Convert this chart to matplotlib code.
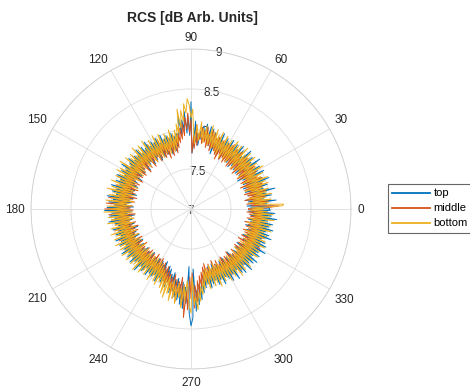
"""RCS polar plot: top / middle / bottom traces, 1 deg sampling."""
import matplotlib
matplotlib.use("Agg")
import matplotlib.pyplot as plt
import numpy as np

plt.rcParams["font.family"] = ["Liberation Sans", "DejaVu Sans"]

# azimuth in degrees, 0..359
angles_deg = np.arange(0, 360, 1)

top = [
    7.98, 7.74, 8.04, 7.70, 7.95, 7.78, 8.07, 7.72, 7.92, 7.69, 8.02, 7.80, 7.96, 7.73, 8.08, 7.76, 7.94, 7.71, 8.00, 7.79,
    7.93, 7.70, 8.05, 7.75, 7.97, 7.72, 7.90, 7.81, 8.03, 7.74, 7.96, 7.68, 8.01, 7.77, 7.92, 7.73, 8.06, 7.79, 7.95, 7.71,
    8.00, 7.76, 7.93, 7.72, 8.04, 7.80, 7.91, 7.74, 7.98, 7.70, 8.02, 7.78, 7.94, 7.73, 7.99, 7.81, 7.92, 7.75, 8.01, 7.77,
    7.95, 7.72, 7.99, 7.79, 7.93, 7.74, 8.03, 7.76, 7.96, 7.80, 7.92, 7.73, 8.00, 7.78, 8.04, 7.82, 8.06, 7.85, 8.02, 8.08,
    7.90, 8.05, 7.88, 7.98, 7.80, 7.95, 7.84, 8.10, 7.78, 7.70, 8.34, 7.92, 8.18, 7.95, 8.22, 8.00, 8.12, 7.94, 8.16, 7.98,
    7.88, 7.96, 7.80, 7.93, 7.75, 7.98, 7.79, 7.92, 7.72, 7.97, 7.81, 7.94, 7.74, 8.00, 7.77, 7.91, 7.73, 7.99, 7.80, 7.95,
    7.71, 7.98, 7.78, 7.93, 7.74, 8.02, 7.80, 7.95, 7.72, 7.99, 7.77, 7.92, 7.75, 8.01, 7.79, 7.94, 7.70, 7.97, 7.82, 7.93,
    7.76, 8.00, 7.73, 7.96, 7.81, 7.92, 7.74, 8.03, 7.78, 7.95, 7.71, 7.99, 7.80, 7.93, 7.75, 8.02, 7.77, 7.96, 7.72, 8.00,
    7.79, 7.94, 7.74, 8.04, 7.76, 7.97, 7.70, 8.01, 7.80, 7.95, 7.73, 8.06, 7.78, 7.98, 7.75, 8.03, 7.81, 7.96, 7.72, 8.05,
    7.77, 8.08, 7.74, 7.99, 7.80, 8.02, 7.71, 7.96, 7.79, 8.04, 7.75, 7.97, 7.82, 7.93, 7.73, 8.01, 7.78, 7.95, 7.70, 7.99,
    7.81, 7.94, 7.74, 8.02, 7.77, 7.96, 7.72, 8.00, 7.80, 7.93, 7.75, 7.98, 7.71, 8.03, 7.79, 7.95, 7.73, 7.99, 7.82, 7.94,
    7.76, 8.01, 7.72, 7.96, 7.80, 7.93, 7.74, 8.04, 7.78, 7.95, 7.71, 7.99, 7.81, 7.92, 7.75, 8.00, 7.77, 7.96, 7.73, 7.98,
    7.80, 7.94, 7.74, 8.01, 7.78, 7.95, 7.72, 7.99, 7.82, 7.96, 7.76, 8.03, 7.79, 7.97, 7.85, 8.08, 7.82, 8.05, 7.90, 8.12,
    7.88, 8.15, 7.95, 8.20, 7.92, 8.25, 7.98, 8.18, 7.72, 8.30, 8.46, 8.36, 7.75, 8.28, 8.02, 8.20, 7.95, 8.14, 7.90, 8.06,
    7.84, 8.00, 7.78, 7.96, 7.82, 8.02, 7.75, 7.98, 7.80, 7.94, 7.73, 8.01, 7.79, 7.96, 7.76, 8.03, 7.81, 7.95, 7.74, 7.99,
    7.78, 8.04, 7.72, 7.97, 7.81, 8.06, 7.75, 7.95, 7.79, 8.02, 7.70, 8.05, 7.77, 7.96, 7.82, 8.07, 7.74, 7.99, 7.80, 8.03,
    7.73, 8.06, 7.79, 7.97, 7.71, 8.04, 7.78, 8.00, 7.83, 8.08, 7.75, 7.98, 7.80, 8.05, 7.72, 8.02, 7.77, 7.96, 7.81, 8.07,
    7.74, 8.03, 7.79, 7.98, 7.71, 8.06, 7.80, 8.00, 7.76, 8.04, 7.73, 7.97, 7.82, 8.08, 7.75, 8.01, 7.78, 8.05, 7.72, 7.99,
]
middle = [
    7.72, 7.95, 8.10, 7.76, 7.92, 7.70, 7.97, 7.78, 7.90, 7.68, 7.94, 7.75, 7.91, 7.73, 7.96, 7.69, 7.89, 7.77, 7.93, 7.71,
    7.95, 7.74, 7.90, 7.67, 7.97, 7.76, 7.92, 7.70, 7.88, 7.78, 7.94, 7.72, 7.91, 7.69, 7.96, 7.75, 7.89, 7.71, 7.93, 7.77,
    7.90, 7.68, 7.95, 7.74, 7.92, 7.70, 7.88, 7.77, 7.96, 7.72, 7.91, 7.69, 7.94, 7.76, 7.89, 7.73, 7.97, 7.70, 7.92, 7.75,
    7.93, 7.71, 7.90, 7.77, 7.95, 7.69, 7.92, 7.74, 7.97, 7.78, 7.94, 7.80, 7.99, 7.76, 8.02, 7.82, 7.96, 7.79, 8.04, 7.85,
    7.98, 7.83, 8.03, 7.88, 7.95, 7.80, 8.06, 7.76, 7.92, 7.70, 8.12, 7.95, 8.20, 8.00, 8.15, 7.92, 8.08, 7.88, 8.02, 7.84,
    7.96, 7.78, 7.92, 7.72, 7.95, 7.75, 7.90, 7.70, 7.94, 7.77, 7.89, 7.68, 7.93, 7.74, 7.91, 7.71, 7.96, 7.76, 7.88, 7.73,
    7.94, 7.70, 7.91, 7.77, 7.97, 7.72, 7.89, 7.75, 7.93, 7.69, 7.96, 7.78, 7.90, 7.71, 7.95, 7.74, 7.92, 7.68, 7.98, 7.76,
    7.91, 7.73, 7.96, 7.70, 7.93, 7.77, 7.99, 7.72, 7.90, 7.75, 7.97, 7.69, 7.94, 7.78, 7.92, 7.71, 8.00, 7.74, 7.95, 7.76,
    7.93, 7.70, 7.98, 7.75, 7.91, 7.72, 8.02, 7.77, 7.94, 7.69, 7.99, 7.74, 8.04, 7.71, 7.96, 7.78, 8.06, 7.73, 7.97, 7.76,
    8.08, 7.72, 7.98, 7.77, 8.03, 7.70, 7.95, 7.75, 8.00, 7.73, 7.94, 7.78, 7.97, 7.71, 7.92, 7.76, 7.99, 7.69, 7.93, 7.74,
    7.96, 7.71, 7.92, 7.76, 7.98, 7.73, 7.90, 7.78, 7.95, 7.70, 7.93, 7.75, 7.97, 7.72, 7.91, 7.77, 7.94, 7.69, 7.96, 7.74,
    7.92, 7.77, 7.95, 7.71, 7.90, 7.74, 7.97, 7.70, 7.93, 7.76, 7.89, 7.72, 7.96, 7.75, 7.91, 7.69, 7.94, 7.78, 7.92, 7.73,
    7.95, 7.71, 7.91, 7.76, 7.97, 7.74, 7.93, 7.79, 7.99, 7.77, 8.02, 7.82, 7.96, 7.85, 8.05, 7.88, 8.10, 7.84, 8.14, 7.90,
    8.18, 7.92, 8.08, 7.86, 8.22, 7.95, 8.36, 8.02, 8.26, 7.85, 8.12, 7.80, 8.24, 7.96, 8.16, 7.90, 8.06, 7.84, 7.98, 7.80,
    7.95, 7.74, 7.92, 7.70, 7.97, 7.76, 7.90, 7.72, 7.94, 7.78, 7.91, 7.69, 7.96, 7.75, 7.93, 7.71, 7.89, 7.77, 7.95, 7.73,
    7.92, 7.70, 7.97, 7.75, 7.90, 7.72, 7.95, 7.78, 7.93, 7.69, 7.98, 7.74, 7.91, 7.76, 7.96, 7.71, 7.94, 7.77, 7.92, 7.73,
    7.97, 7.70, 7.93, 7.76, 7.90, 7.72, 7.96, 7.78, 7.94, 7.69, 7.99, 7.75, 7.92, 7.71, 7.95, 7.77, 7.91, 7.73, 7.98, 7.70,
    7.94, 7.76, 7.90, 7.72, 7.97, 7.74, 7.93, 7.69, 7.96, 7.78, 7.91, 7.71, 7.95, 7.75, 7.92, 7.73, 7.98, 7.70, 7.94, 7.77,
]
bottom = [
    7.90, 7.76, 8.14, 8.16, 7.80, 7.98, 7.73, 8.01, 7.78, 7.95, 7.72, 8.03, 7.81, 7.97, 7.75, 8.00, 7.79, 7.94, 7.71, 8.02,
    7.77, 7.99, 7.74, 8.04, 7.80, 7.96, 7.72, 8.01, 7.78, 7.93, 7.75, 8.05, 7.79, 7.97, 7.71, 8.00, 7.82, 7.95, 7.74, 8.03,
    7.76, 7.98, 7.73, 8.02, 7.81, 7.96, 7.70, 8.04, 7.77, 7.94, 7.75, 8.01, 7.80, 7.99, 7.72, 8.03, 7.78, 7.95, 7.74, 8.00,
    7.79, 7.97, 7.73, 8.02, 7.81, 7.95, 7.76, 8.04, 7.78, 7.99, 7.82, 8.05, 7.80, 8.01, 7.85, 8.08, 7.83, 7.98, 7.88, 8.06,
    7.84, 8.02, 7.90, 8.10, 7.86, 7.98, 8.05, 7.82, 7.95, 8.25, 8.14, 8.30, 8.38, 8.20, 8.32, 8.10, 8.24, 8.02, 8.26, 7.96,
    8.08, 7.84, 8.01, 7.79, 7.97, 7.75, 8.03, 7.80, 7.96, 7.73, 8.00, 7.78, 7.94, 7.76, 8.02, 7.81, 7.98, 7.72, 8.04, 7.77,
    7.95, 7.74, 8.01, 7.79, 7.97, 7.72, 8.05, 7.80, 7.93, 7.76, 8.03, 7.78, 7.99, 7.73, 8.06, 7.81, 7.96, 7.75, 8.02, 7.79,
    7.98, 7.74, 8.04, 7.77, 7.95, 7.72, 8.07, 7.80, 7.97, 7.76, 8.02, 7.73, 8.05, 7.79, 7.99, 7.75, 8.03, 7.78, 7.96, 7.71,
    8.06, 7.80, 7.98, 7.74, 8.03, 7.77, 8.08, 7.73, 7.99, 7.79, 8.04, 7.75, 8.01, 7.72, 8.07, 7.78, 7.97, 7.74, 8.05, 7.80,
    8.02, 7.76, 8.09, 7.73, 7.99, 7.79, 8.04, 7.75, 8.01, 7.72, 8.06, 7.78, 7.97, 7.74, 8.03, 7.80, 7.98, 7.73, 8.05, 7.77,
    7.99, 7.74, 8.03, 7.79, 7.96, 7.72, 8.05, 7.78, 8.00, 7.75, 8.02, 7.73, 7.97, 7.80, 8.04, 7.76, 7.98, 7.72, 8.03, 7.79,
    7.96, 7.75, 8.02, 7.73, 7.99, 7.78, 8.05, 7.76, 7.97, 7.72, 8.03, 7.80, 7.98, 7.74, 8.01, 7.77, 7.95, 7.73, 8.04, 7.79,
    7.97, 7.75, 8.02, 7.78, 8.05, 7.80, 7.99, 7.83, 8.06, 7.86, 8.12, 7.90, 8.16, 7.88, 8.10, 7.95, 8.18, 7.92, 8.14, 7.98,
    8.20, 7.94, 8.12, 8.00, 8.24, 7.96, 8.15, 7.90, 8.05, 8.22, 8.30, 7.85, 8.20, 8.10, 8.26, 8.04, 8.16, 7.98, 8.08, 7.92,
    8.02, 7.80, 7.97, 7.76, 8.03, 7.79, 7.95, 7.74, 8.01, 7.78, 7.98, 7.73, 8.04, 7.77, 7.96, 7.75, 8.00, 7.79, 7.97, 7.72,
    8.03, 7.78, 7.96, 7.74, 8.01, 7.80, 7.98, 7.73, 8.05, 7.77, 7.99, 7.75, 8.02, 7.79, 7.95, 7.74, 8.04, 7.78, 7.97, 7.72,
    8.00, 7.77, 7.96, 7.75, 8.03, 7.79, 7.98, 7.73, 8.01, 7.78, 7.95, 7.76, 8.04, 7.80, 7.97, 7.74, 8.02, 7.77, 7.99, 7.73,
    8.01, 7.79, 7.96, 7.75, 8.04, 7.78, 7.98, 7.72, 8.02, 7.77, 7.97, 7.74, 8.05, 7.80, 7.99, 7.76, 8.03, 7.79, 7.96, 7.74,
]
series_names = ["top", "middle", "bottom"]
colors = ["#0072BD", "#D95319", "#EDB120"]

r_ticks = [7, 7.5, 8, 8.5, 9]
theta_ticks = list(range(0, 360, 30))

W, H = 470, 387
fig = plt.figure(figsize=(W / 100, H / 100), dpi=100)
cx, cy, R = 191, 209, 160
ax = fig.add_axes([(cx - R) / W, (H - cy - R) / H, 2 * R / W, 2 * R / H],
                  projection="polar")

theta = np.deg2rad(np.append(angles_deg, angles_deg[0]))
for name, vals, c in zip(series_names, [top, middle, bottom], colors):
    assert len(vals) == len(angles_deg)
    ax.plot(theta, np.append(vals, vals[0]), color=c, lw=0.7, label=name,
            zorder=3)

ax.set_rlim(r_ticks[0], r_ticks[-1])
ax.set_yticks(r_ticks)
ax.set_yticklabels([])
for rv in r_ticks:
    ax.annotate(f"{rv:g}", xy=(np.deg2rad(80), rv), xytext=(0, -2),
                textcoords="offset pixels", ha="center", va="center",
                fontsize=8.5, color="#262626", zorder=1)

# angle labels, placed just outside the rim like MATLAB does
ax.set_xticks(np.deg2rad(theta_ticks))
ax.set_xticklabels([])
for t in theta_ticks:
    c, s = np.cos(np.deg2rad(t)), np.sin(np.deg2rad(t))
    ha = "left" if c > 0.1 else ("right" if c < -0.1 else "center")
    if s > 0.1:
        va, dy = "bottom", 5.5 * s
    elif s < -0.1:
        va, dy = "center", 6 * s - 7.5
    else:
        va, dy = "center", -1
    ax.annotate(str(t), xy=(np.deg2rad(t), r_ticks[-1]),
                xytext=(6 * c, dy), textcoords="offset pixels",
                ha=ha, va=va, fontsize=8.5, color="#262626",
                annotation_clip=False)
ax.tick_params(axis="x", length=0)

ax.grid(True, color="#dedede", lw=0.6)
ax.spines["polar"].set_color("#d0d0d0")
ax.spines["polar"].set_linewidth(0.6)

fig.text(192 / W, 1 - 18 / H, "RCS [dB Arb. Units]", ha="center",
         va="center", fontsize=10, fontweight="bold", color="#262626")

leg = fig.legend(loc="upper left", bbox_to_anchor=(388 / W, 1 - 184 / H),
                 fontsize=8, frameon=True, fancybox=False, borderaxespad=0,
                 handlelength=3.4, handletextpad=0.3, borderpad=0.4,
                 labelspacing=0.45)
leg.get_frame().set_edgecolor("#404040")
leg.get_frame().set_linewidth(0.8)
for ln in leg.get_lines():
    ln.set_linewidth(1.3)

fig.savefig("out.png", dpi=100)
